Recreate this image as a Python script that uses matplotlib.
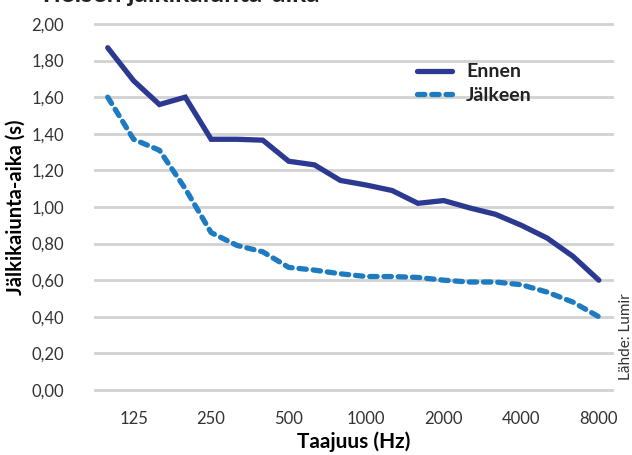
import matplotlib.pyplot as plt

plt.rcParams['font.family'] = ['Lato', 'DejaVu Sans']

freqs       = ['100', '125', '160', '200', '250', '315', '400', '500', '630', '800',
               '1000', '1250', '1600', '2000', '2500', '3150', '4000', '5000', '6300', '8000']
ennen       = [1.87, 1.69, 1.56, 1.60, 1.37, 1.37, 1.365, 1.25, 1.23, 1.145,
               1.12, 1.09, 1.02, 1.035, 0.995, 0.96, 0.90, 0.83, 0.73, 0.60]
jalkeen     = [1.60, 1.37, 1.31, 1.10, 0.86, 0.79, 0.755, 0.67, 0.655, 0.635,
               0.62, 0.62, 0.615, 0.60, 0.59, 0.59, 0.575, 0.535, 0.48, 0.40]
tick_labels = ['125', '250', '500', '1000', '2000', '4000', '8000']
y_ticks     = [0.0, 0.2, 0.4, 0.6, 0.8, 1.0, 1.2, 1.4, 1.6, 1.8, 2.0]

fig = plt.figure(figsize=(6.32, 4.55), dpi=100)
ax  = fig.add_axes([0.150, 0.1429, 0.818, 0.8044])

x = list(range(len(freqs)))
for yt in y_ticks:
    ax.axhline(yt, color='#d2d2d2', lw=2.0, zorder=1, clip_on=False)

ax.plot(x, ennen, color='#2b3990', lw=3.8, solid_capstyle='round',
        solid_joinstyle='miter', label='Ennen', zorder=3)
ax.plot(x, jalkeen, color='#1f7bc1', lw=3.8, ls=(0, (1.4, 1.3)),
        dash_capstyle='round', label='Jälkeen', zorder=3)

ax.set_xlim(-0.5, 19.5)
ax.set_ylim(0, 2.0)
ax.set_yticks(y_ticks)
ax.set_yticklabels([('%.2f' % v).replace('.', ',') for v in y_ticks])
ax.set_xticks([freqs.index(t) for t in tick_labels])
ax.set_xticklabels(tick_labels)
ax.tick_params(axis='both', length=0, labelsize=12, colors='#333333')
ax.tick_params(axis='y', pad=22)
ax.tick_params(axis='x', pad=15)
for s in ax.spines.values():
    s.set_visible(False)

ax.set_ylabel('Jälkikaiunta-aika (s)', fontsize=14.5, fontweight='bold', labelpad=4)
ax.set_xlabel('Taajuus (Hz)', fontsize=15, fontweight='bold', labelpad=3)

leg = ax.legend(loc='upper left', bbox_to_anchor=(0.59, 0.94), frameon=False,
                fontsize=14, handlelength=1.8, handletextpad=0.7, labelspacing=0.35)
for t in leg.get_texts():
    t.set_fontweight('bold')
    t.set_color('#222222')

# title sits mostly above the canvas, as in the source crop
fig.text(0.059, 1 - 2.0/455, 'Yleisen jälkikaiunta-aika', fontsize=19,
         fontweight='bold', va='baseline', ha='left', color='#222222')
fig.text(0.99, 0.26, 'Lähde: Lumir', rotation=90, fontsize=11,
         va='center', ha='center', color='#333333')

fig.savefig('out.png', dpi=100)
